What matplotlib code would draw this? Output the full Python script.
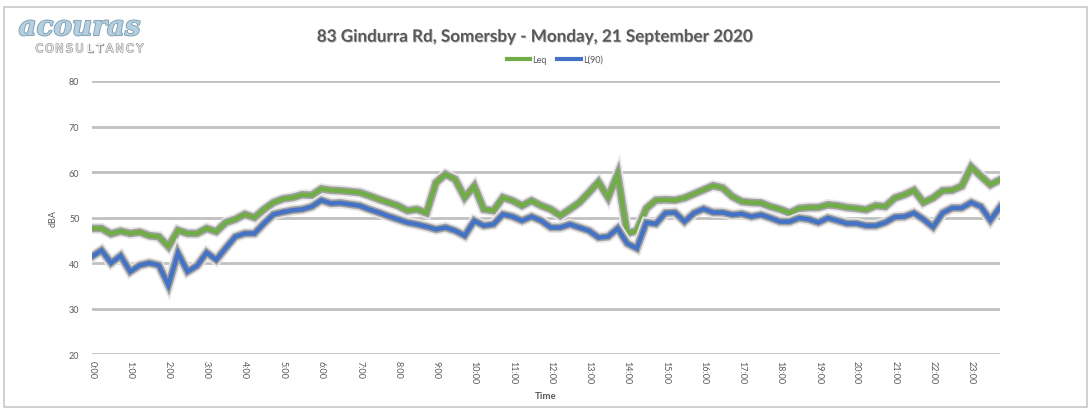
import matplotlib
matplotlib.use("Agg")
import matplotlib.pyplot as plt
import matplotlib.patheffects as pe
from matplotlib.patches import Rectangle
from matplotlib.lines import Line2D

# 15-minute noise levels, 0:00 to 23:45
leq = [
    47.6, 47.6, 46.4, 47.0, 46.5, 46.8, 46.0, 45.8, 43.6, 47.2, 46.5, 46.5,
    47.6, 46.9, 48.9, 49.6, 50.7, 50.0, 51.8, 53.3, 54.1, 54.4, 55.0, 54.9,
    56.3, 56.0, 55.9, 55.7, 55.5, 54.8, 54.0, 53.3, 52.6, 51.5, 51.8, 51.0,
    57.7, 59.5, 58.4, 54.4, 56.9, 51.8, 51.5, 54.4, 53.7, 52.6, 53.7, 52.6,
    51.8, 50.4, 51.8, 53.3, 55.5, 57.8, 54.4, 59.5, 46.5, 47.1, 52.0, 53.8,
    53.9, 53.8, 54.3, 55.2, 56.1, 57.0, 56.5, 54.6, 53.5, 53.3, 53.2, 52.4,
    51.8, 51.0, 52.0, 52.2, 52.2, 52.8, 52.6, 52.2, 52.0, 51.7, 52.6, 52.4,
    54.3, 55.0, 56.0, 53.3, 54.3, 55.9, 56.0, 56.9, 61.1, 59.1, 57.2, 58.3,
]
l90 = [
    41.4, 42.8, 40.0, 41.6, 38.1, 39.5, 40.0, 39.5, 35.1, 42.2, 38.1, 39.4,
    42.3, 40.7, 43.3, 45.8, 46.5, 46.5, 48.7, 50.7, 51.2, 51.6, 51.8, 52.4,
    53.8, 53.1, 53.2, 52.9, 52.6, 51.8, 51.1, 50.3, 49.6, 48.9, 48.5, 48.0,
    47.4, 47.8, 47.1, 46.0, 49.3, 48.2, 48.5, 50.7, 50.2, 49.3, 50.2, 49.3,
    47.8, 47.8, 48.5, 47.8, 47.1, 45.6, 45.8, 47.6, 44.3, 43.2, 48.9, 48.6,
    51.0, 51.1, 49.1, 51.0, 51.9, 51.1, 51.1, 50.6, 50.8, 50.2, 50.6, 49.9,
    49.1, 49.1, 49.9, 49.6, 48.9, 49.9, 49.3, 48.7, 48.7, 48.2, 48.2, 48.9,
    50.1, 50.2, 51.0, 49.6, 47.9, 51.0, 52.1, 52.1, 53.3, 52.4, 49.4, 52.3,
]
times = [f"{i // 4}:{(i % 4) * 15:02d}" for i in range(len(leq))]
hour_labels = [t for t in times if t.endswith(":00")]
y_ticks = [20, 30, 40, 50, 60, 70, 80]

green = "#70ad47"
blue = "#4472c4"
text_grey = "#595959"

plt.rcParams["font.family"] = ["Lato", "DejaVu Sans"]

fig = plt.figure(figsize=(10.92, 4.10), dpi=100)
fig.patches.append(Rectangle((0.004, 0.005), 0.991, 0.975, transform=fig.transFigure,
                             fill=False, edgecolor="#c8c8c8", linewidth=1.2))

ax = fig.add_axes([0.0842, 0.1341, 0.8315, 0.6659])

x = list(range(len(leq)))
glow = [pe.Stroke(linewidth=8, foreground="#e6e6e6"),
        pe.Stroke(linewidth=5.5, foreground="#a0a0a0"),
        pe.Normal()]
ax.plot(x, leq, color=green, linewidth=3.2, solid_joinstyle="miter", path_effects=glow, zorder=3)
ax.plot(x, l90, color=blue, linewidth=3.2, solid_joinstyle="miter", path_effects=glow, zorder=3)

ax.set_xlim(0, len(leq) - 1)
ax.set_ylim(20, 80)
ax.set_yticks(y_ticks)
ax.set_yticklabels([str(v) for v in y_ticks], fontsize=6.5, color=text_grey)
ax.set_xticks([i for i, t in enumerate(times) if t in hour_labels])
ax.set_xticklabels(hour_labels, rotation=-90, fontsize=6.5, color=text_grey, va="top", ha="center")
ax.tick_params(axis="both", length=0, pad=9)
ax.tick_params(axis="x", pad=4)

ax.grid(axis="y", color="#c0c0c0", linewidth=2)
ax.set_axisbelow(True)
for s in ax.spines.values():
    s.set_visible(False)

ax.set_ylabel("dBA", fontsize=6.5, color=text_grey, labelpad=8)
ax.set_xlabel("Time", fontsize=7, fontweight="bold", color=text_grey, labelpad=6)

fig.text(0.49, 0.908, "83 Gindurra Rd, Somersby - Monday, 21 September 2020",
         ha="center", va="center", fontsize=12.3, fontweight="bold", color=text_grey,
         path_effects=[pe.withSimplePatchShadow(offset=(0.6, -0.6), shadow_rgbFace="#b0b0b0", alpha=0.8)])

handles = [Line2D([], [], color=green, linewidth=3), Line2D([], [], color=blue, linewidth=3)]
fig.legend(handles, ["Leq", "L(90)"], loc="center", bbox_to_anchor=(0.508, 0.853), ncol=2,
           frameon=False, fontsize=6.5, handlelength=2.6, handletextpad=0.2, columnspacing=1.2,
           labelcolor=text_grey)

# company logo
fig.text(0.017, 0.93, "acouras", ha="left", va="center", fontsize=20, style="italic",
         fontweight="bold", family="DejaVu Serif", color="#b4cfdf",
         path_effects=[pe.Stroke(linewidth=1.2, foreground="#7a9bb0"), pe.Normal()])
# spaced-out letters under the wordmark
for k, ch in enumerate("CONSULTANCY"):
    fig.text(0.036 + k * 0.0092, 0.878, ch, ha="center", va="center", fontsize=8,
             family="DejaVu Sans", color="#f4f4f4",
             path_effects=[pe.Stroke(linewidth=1.0, foreground="#9a9a9a"), pe.Normal()])

fig.savefig("out.png", dpi=100)
